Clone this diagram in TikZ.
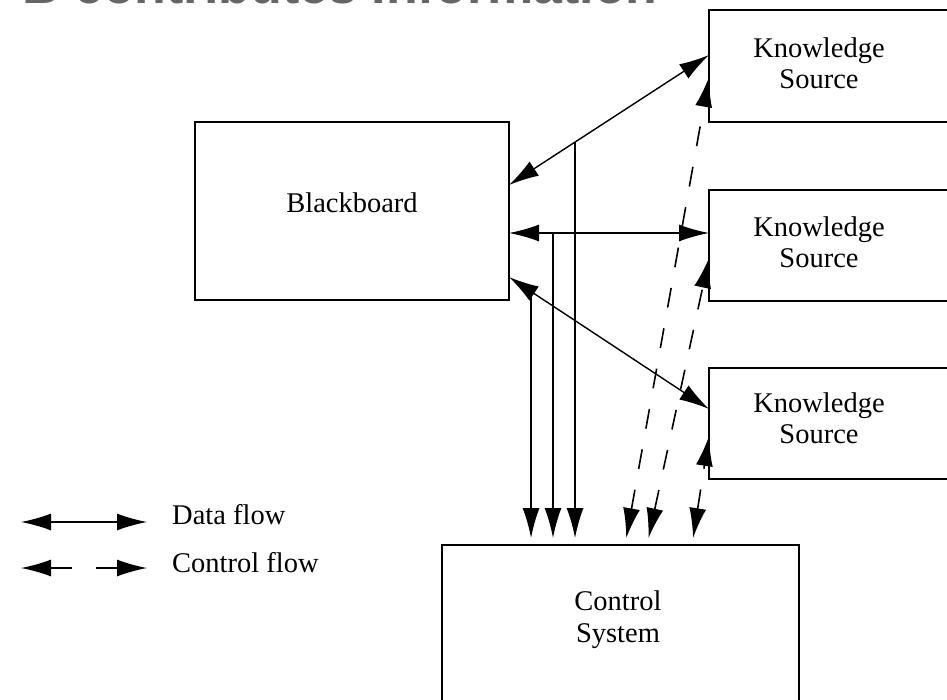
\documentclass[tikz,border=0pt]{standalone}
\usepackage{fontspec}
\setmainfont{Liberation Serif}
\newfontfamily\headfont{Liberation Sans}
\usetikzlibrary{arrows.meta}

\begin{document}
\begin{tikzpicture}[x=1pt, y=-1pt,
  >={Latex[length=30pt, width=17pt]},
  box/.style={draw, line width=1.8pt, outer sep=0pt, inner sep=0pt,
              anchor=north west},
  txt/.style={align=center, inner sep=0pt,
              font=\fontsize{28.5}{31}\selectfont},
  data/.style={line width=1.4pt, <->},
  dataend/.style={line width=1.4pt, ->},
  ctrl/.style={line width=1.6pt, dash pattern=on 20pt off 21pt, <->},
  tocs/.style={shorten >=7pt}
]
\useasboundingbox (0,0) rectangle (947,699);
\clip (0,0) rectangle (947,699);

% heading of the slide, mostly above the page edge
\node[anchor=base west, inner sep=0pt, text=black!60,
      font=\headfont\bfseries\fontsize{52}{52}\selectfont]
  (heading) at (22,3) {B contributes Information};

% boxes
\node[box, minimum width=314pt, minimum height=178pt] (bb)  at (195,122) {};
\node[box, minimum width=260pt, minimum height=112pt] (ks1) at (709,10)  {};
\node[box, minimum width=260pt, minimum height=111pt] (ks2) at (709,190) {};
\node[box, minimum width=260pt, minimum height=111pt] (ks3) at (709,368) {};
\node[box, minimum width=357pt, minimum height=200pt] (ctl) at (442,545) {};

% box labels
\node[txt] (bbl)  at (352,202.5) {Blackboard};
\node[txt] (ks1l) at (819,63)    {Knowledge\\Source};
\node[txt] (ks2l) at (819,242)   {Knowledge\\Source};
\node[txt] (ks3l) at (819,418.5) {Knowledge\\Source};
\node[txt, font=\fontsize{28.5}{32}\selectfont] (ctll) at (618,619.5) {Control\\System};

% data flow between blackboard and knowledge sources
\coordinate (bbA) at (bb.east |- 0,185);
\coordinate (bbB) at (bb.east |- 0,233);
\coordinate (bbC) at (bb.east |- 0,277);
\coordinate (ksA) at (ks1.west |- 0,55);
\coordinate (ksB) at (ks2.west |- 0,233);
\coordinate (ksC) at (ks3.west |- 0,409);
\draw[data] (bbA) -- (ksA);
\draw[data] (bbB) -- (ksB);
\draw[data] (bbC) -- (ksC);

% branches down to the control system
\coordinate (jA) at (intersection of bbA--ksA and 575,0--575,699);
\coordinate (jB) at (553,233);
\coordinate (jC) at (intersection of bbC--ksC and 531,0--531,699);
\draw[dataend, tocs] (jA) -- (jA |- ctl.north);
\draw[dataend, tocs] (jB) -- (jB |- ctl.north);
\draw[dataend, tocs] (jC) -- (jC |- ctl.north);

% control flow between control system and knowledge sources
\coordinate (cA) at (625,0 |- ctl.north);
\coordinate (cB) at (647,0 |- ctl.north);
\coordinate (cC) at (692,0 |- ctl.north);
\coordinate (kA) at (ks1.west |- 0,77);
\coordinate (kB) at (ks2.west |- 0,258);
\coordinate (kC) at (ks3.west |- 0,436);
\draw[ctrl, shorten <=7pt] (cA) -- (kA);
\draw[ctrl, shorten <=7pt] (cB) -- (kB);
\draw[ctrl, shorten <=7pt] (cC) -- (kC);

% legend
\coordinate (lgA1) at (21,522);
\coordinate (lgA2) at (147,522);
\coordinate (lgB1) at (21,568);
\coordinate (lgB2) at (72,568);
\coordinate (lgB3) at (96,568);
\coordinate (lgB4) at (147,568);
\draw[data] (lgA1) -- (lgA2);
\draw[line width=1.4pt, <-] (lgB1) -- (lgB2);
\draw[dataend] (lgB3) -- (lgB4);
\node[txt, anchor=base west] (lgAt) at (172,524) {Data flow};
\node[txt, anchor=base west] (lgBt) at (172,572) {Control flow};
\end{tikzpicture}
\end{document}
